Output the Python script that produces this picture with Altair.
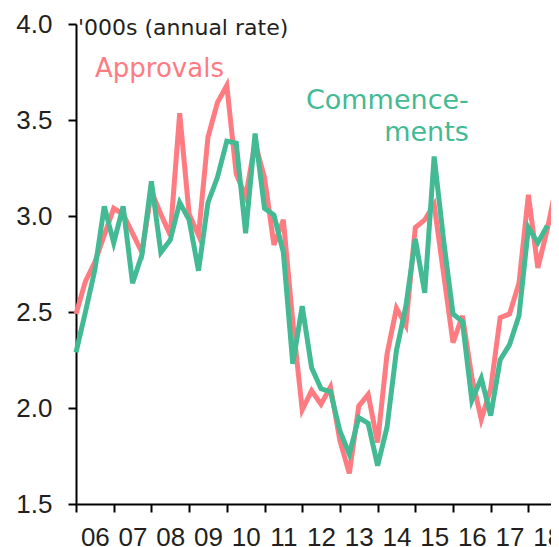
import altair as alt
import pandas as pd

# Quarterly data, first quarter of 2006 onwards ('000s, annual rate)
start_year = 2006
approvals = [2.49, 2.66, 2.76, 2.90, 3.04, 3.01, 2.91, 2.81, 3.13, 3.01, 2.90, 3.535, 3.01,
             2.90, 3.41, 3.59, 3.68, 3.22, 3.10, 3.38, 3.20, 2.85, 2.98, 2.45, 1.99,
             2.09, 2.02, 2.11, 1.83, 1.66, 2.01, 2.07, 1.82, 2.28, 2.52, 2.43, 2.94,
             2.98, 3.06, 2.70, 2.34, 2.48, 2.16, 1.94, 2.10, 2.47, 2.49, 2.65, 3.11, 2.73, 2.93, 3.17]
commencements = [2.29, 2.50, 2.72, 3.05, 2.86, 3.05, 2.65, 2.80, 3.18, 2.81, 2.875, 3.07, 2.98,
                 2.715, 3.07, 3.20, 3.39, 3.38, 2.91, 3.43, 3.04, 3.005, 2.81, 2.23, 2.53,
                 2.21, 2.10, 2.085, 1.88, 1.76, 1.95, 1.92, 1.70, 1.90, 2.30, 2.53, 2.88,
                 2.60, 3.31, 2.875, 2.49, 2.45, 2.04, 2.155, 1.96, 2.25, 2.33, 2.48, 2.94, 2.86, 2.95]
year_ticks = list(range(2006, 2019))
y_ticks = [1.5, 2.0, 2.5, 3.0, 3.5, 4.0]

RED = "#FF7B82"
GREEN = "#43BA93"
TXT = "#231F20"

df_a = pd.DataFrame({"t": [start_year + i / 4 for i in range(len(approvals))], "v": approvals})
df_c = pd.DataFrame({"t": [start_year + i / 4 for i in range(len(commencements))], "v": commencements})

PX_PER_YEAR = 37.7
W = 475
xscale = alt.Scale(domain=[2006, 2006 + W / PX_PER_YEAR], nice=False, zero=False)
yscale = alt.Scale(domain=[1.5, 4.0], nice=False, zero=False)

xaxis = alt.Axis(values=year_ticks, tickCount=40, labelExpr="substring(toString(datum.value), 2, 4)",
                 labelOffset=PX_PER_YEAR / 2, labelPadding=12, labelFlush=False, labelOverlap=False,
                 title=None, grid=False)
yaxis = alt.Axis(values=y_ticks, tickCount=20, format=".1f", labelPadding=16, title=None, grid=False,
                 labelFlush=False, labelOverlap=False)

line_a = alt.Chart(df_a).mark_line(color=RED, strokeWidth=5, clip=False).encode(
    x=alt.X("t:Q", scale=xscale, axis=xaxis),
    y=alt.Y("v:Q", scale=yscale, axis=yaxis),
)
line_c = alt.Chart(df_c).mark_line(color=GREEN, strokeWidth=5, clip=False).encode(
    x=alt.X("t:Q", scale=xscale),
    y=alt.Y("v:Q", scale=yscale),
)

title = alt.Chart(pd.DataFrame({"s": ["'000s (annual rate)"]})).mark_text(
    align="left", baseline="alphabetic", font="DejaVu Sans", fontSize=22, color=TXT
).encode(text="s:N", x=alt.value(2), y=alt.value(11))

lab_a = alt.Chart(pd.DataFrame({"t": [2006.505], "v": [3.7255], "s": ["Approvals"]})).mark_text(
    align="left", baseline="alphabetic", font="DejaVu Sans", fontSize=26, color=RED
).encode(x=alt.X("t:Q", scale=xscale), y=alt.Y("v:Q", scale=yscale), text="s:N")

lab_c = alt.Chart(pd.DataFrame({"t": [2016.42], "v": [3.556], "s": ["Commence-\nments"]})).mark_text(
    align="right", baseline="alphabetic", font="DejaVu Sans", fontSize=27, color=GREEN,
    lineBreak="\n", lineHeight=31.4
).encode(x=alt.X("t:Q", scale=xscale), y=alt.Y("v:Q", scale=yscale), text="s:N")

chart = alt.layer(line_a, line_c, title, lab_a, lab_c).properties(
    width=W, height=480,
    autosize=alt.AutoSizeParams(type="none"),
    padding={"left": 68, "top": 16, "right": 0, "bottom": 43},
).configure_view(stroke=None).configure_axis(
    labelFont="Liberation Sans", labelFontSize=26, labelColor=TXT,
    domainColor="black", domainWidth=2, tickColor="black", tickWidth=2, tickSize=8,
)

chart.save("out.html", embed_options={"renderer": "svg", "actions": False})
